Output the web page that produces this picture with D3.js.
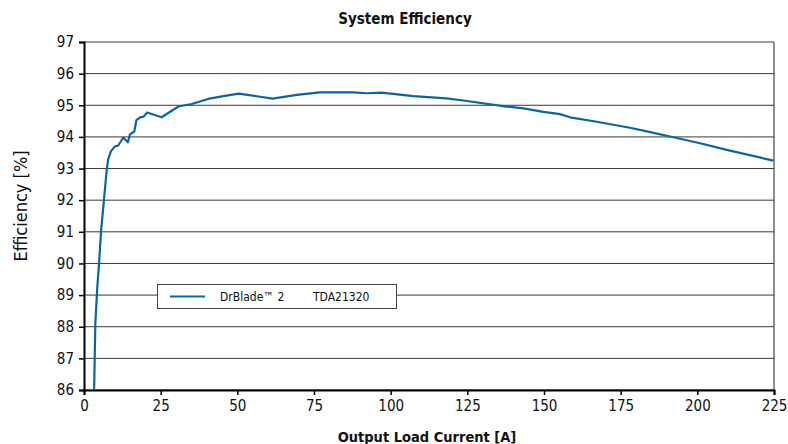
<!doctype html>
<html>
<head>
  <meta charset="utf-8">
  <title>System Efficiency</title>
  <script src="https://d3js.org/d3.v7.min.js"></script>
  <style>
    body { margin: 0; background: #fff; }
    text { font-family: 'DejaVu Sans Condensed', 'Liberation Sans Narrow', sans-serif; fill: #111; }
  </style>
</head>
<body>
  <svg width="788" height="444"></svg>
  <script>
    // output current [A]
    var current = [3.3, 3.7, 4.3, 4.9, 5.6, 6.5, 7.4, 7.9, 8.8, 10.1, 11.1, 12.8, 14.3, 15.0, 16.4, 17.1,
      18.3, 19.4, 20.6, 25.3, 30.8, 35.1, 40.5, 45.4, 50.5, 57.4, 61.5, 69.4, 76.9, 87.8, 92.2, 97.0,
      107.4, 118.2, 123.7, 137.8, 143.3, 149.8, 155.2, 158.5, 167.2, 178.0, 182.4, 192.2, 200.9, 209.6, 224.8];
    // efficiency [%]
    var efficiency = [86.0, 88.1, 89.2, 90.0, 91.06, 92.0, 92.95, 93.3, 93.55, 93.7, 93.72, 93.98, 93.83, 94.08, 94.17, 94.53,
      94.62, 94.64, 94.77, 94.62, 94.96, 95.04, 95.2, 95.29, 95.37, 95.27, 95.21, 95.33, 95.41, 95.41, 95.38, 95.4,
      95.29, 95.22, 95.15, 94.96, 94.9, 94.79, 94.72, 94.62, 94.48, 94.29, 94.2, 93.99, 93.8, 93.59, 93.25];
    var xTicks = [0, 25, 50, 75, 100, 125, 150, 175, 200, 225];
    var yTicks = [86, 87, 88, 89, 90, 91, 92, 93, 94, 95, 96, 97];
    var seriesName = "DrBlade\u2122 2";
    var seriesPart = "TDA21320";

    var svg = d3.select("svg");
    var x = d3.scaleLinear().domain([0, 225]).range([84, 774]);
    var y = d3.scaleLinear().domain([86, 97]).range([390, 42]);

    // grid
    svg.append("g")
      .selectAll("line")
      .data(yTicks)
      .enter()
      .append("line")
      .attr("x1", x(0)).attr("x2", x(225))
      .attr("y1", d => y(d)).attr("y2", d => y(d))
      .attr("stroke", "#3a3a3a")
      .attr("stroke-width", 1);

    // right border
    svg.append("line")
      .attr("x1", x(225)).attr("x2", x(225))
      .attr("y1", y(97)).attr("y2", y(86))
      .attr("stroke", "#222").attr("stroke-width", 1);

    // axes
    var xAxis = svg.append("g")
      .attr("transform", "translate(0," + y(86) + ")")
      .call(d3.axisBottom(x).tickValues(xTicks).tickSize(5).tickPadding(5));
    var yAxis = svg.append("g")
      .attr("transform", "translate(" + x(0) + ",0)")
      .call(d3.axisLeft(y).tickValues(yTicks).tickSize(5).tickPadding(5));

    [xAxis, yAxis].forEach(function (g) {
      g.select(".domain").attr("stroke", "#000").attr("stroke-width", 2);
      g.selectAll(".tick line").attr("stroke", "#000").attr("stroke-width", 1.5);
      g.selectAll(".tick text").attr("font-size", 15)
        .attr("font-family", "'DejaVu Sans Condensed', 'Liberation Sans Narrow', sans-serif")
        .attr("fill", "#111");
    });

    // legend
    var lg = svg.append("g");
    lg.append("rect")
      .attr("x", 157.5).attr("y", 284.5).attr("width", 239).attr("height", 24)
      .attr("fill", "#fff").attr("stroke", "#444").attr("stroke-width", 1);
    lg.append("line")
      .attr("x1", 170).attr("x2", 205).attr("y1", 296.5).attr("y2", 296.5)
      .attr("stroke", "#0d67a3").attr("stroke-width", 2);
    lg.append("text").attr("x", 220).attr("y", 301).attr("font-size", 12).text(seriesName);
    lg.append("text").attr("x", 313).attr("y", 301).attr("font-size", 12).text(seriesPart);

    // curve
    var line = d3.line()
      .x((d, i) => x(current[i]))
      .y(d => y(d));
    svg.append("path")
      .datum(efficiency)
      .attr("d", line)
      .attr("fill", "none")
      .attr("stroke", "#0a66a0")
      .attr("stroke-width", 2.2)
      .attr("stroke-linejoin", "round");

    // titles
    svg.append("text")
      .attr("x", 405).attr("y", 24)
      .attr("text-anchor", "middle")
      .attr("font-size", 15).attr("font-weight", "bold")
      .text("System Efficiency");
    svg.append("text")
      .attr("x", 427).attr("y", 442)
      .attr("text-anchor", "middle")
      .attr("font-size", 14.5).attr("font-weight", "bold")
      .text("Output Load Current [A]");
    svg.append("text")
      .attr("transform", "translate(27,206) rotate(-90)")
      .attr("text-anchor", "middle")
      .attr("font-size", 18)
      .text("Efficiency [%]");
  </script>
</body>
</html>
